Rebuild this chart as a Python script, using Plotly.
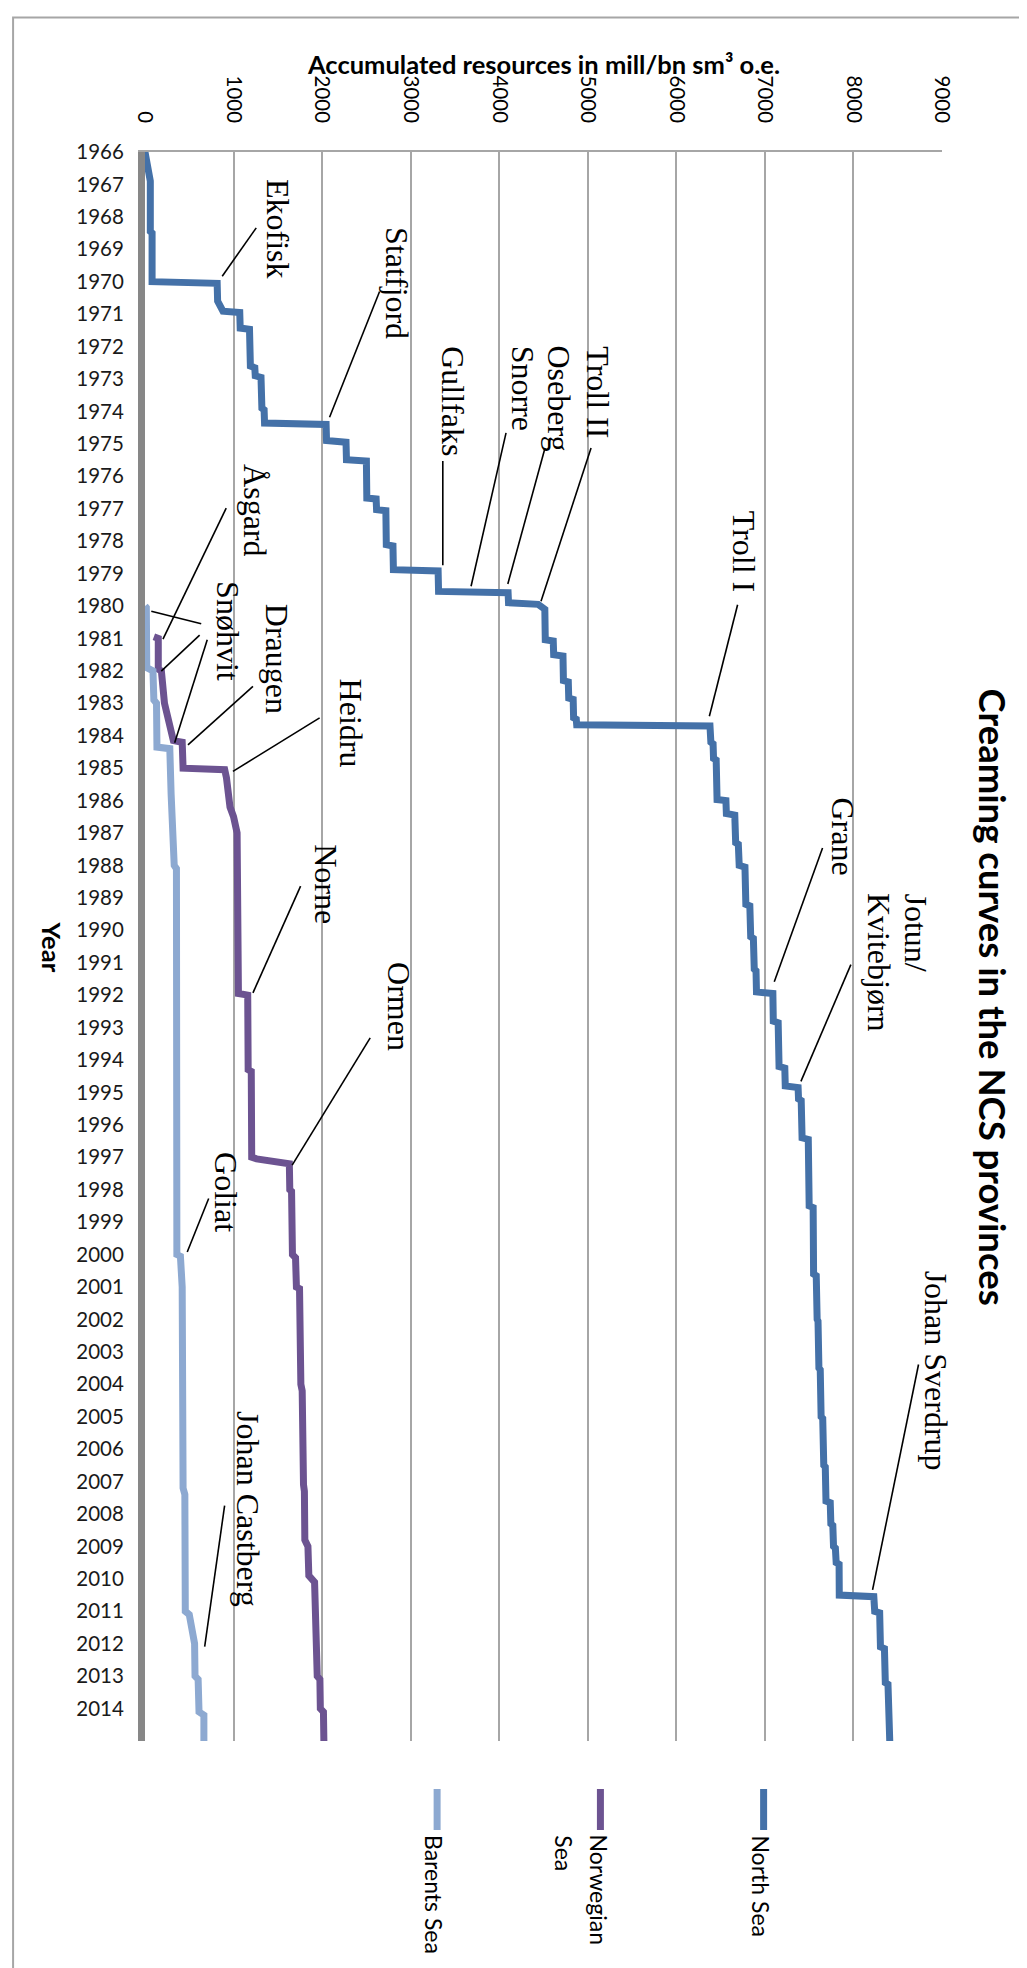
import plotly.graph_objects as go

# ---------------- data ----------------
series_names = ["North Sea", "Norwegian Sea", "Barents Sea"]
series_colors = ["#4471A8", "#6C5391", "#8DA9D1"]

ns_year = [1966.00, 1966.90, 1968.45, 1968.50, 1970.00, 1970.05, 1970.60, 1970.91, 1970.95, 1971.43,
           1971.47, 1972.60, 1972.65, 1972.90, 1972.95, 1973.90, 1973.95, 1974.36, 1974.40, 1974.90,
           1974.95, 1975.49, 1975.53, 1976.67, 1976.70, 1977.03, 1977.06, 1978.11, 1978.15, 1978.88,
           1978.92, 1979.55, 1979.59, 1979.90, 1979.95, 1980.10, 1981.04, 1981.08, 1981.50, 1981.54,
           1982.30, 1982.34, 1982.84, 1982.88, 1983.45, 1983.49, 1983.66, 1983.70, 1984.20, 1984.25,
           1984.70, 1984.75, 1985.97, 1986.00, 1986.40, 1986.45, 1987.30, 1987.35, 1988.00, 1988.05,
           1989.20, 1989.25, 1990.20, 1990.25, 1991.20, 1991.25, 1991.90, 1991.95, 1992.80, 1992.85,
           1994.20, 1994.25, 1994.80, 1994.85, 1995.20, 1995.25, 1996.40, 1996.45, 1998.50, 1998.55,
           2000.60, 2000.65, 2002.00, 2002.05, 2003.50, 2003.55, 2005.00, 2005.05, 2006.50, 2006.55,
           2007.60, 2007.65, 2008.30, 2008.35, 2009.00, 2009.05, 2009.50, 2009.55, 2010.50, 2010.55,
           2011.00, 2011.05, 2012.10, 2012.15, 2013.20, 2013.25, 2015.00]
ns_value = [0, 60, 60, 80, 80, 815, 820, 880, 1070, 1075,
            1180, 1190, 1240, 1245, 1310, 1320, 1345, 1350, 2045, 2050,
            2270, 2275, 2500, 2505, 2610, 2615, 2720, 2725, 2800, 2805,
            3310, 3315, 4100, 4105, 4440, 4515, 4520, 4610, 4615, 4720,
            4725, 4780, 4785, 4835, 4840, 4870, 4875, 6380, 6390, 6415,
            6420, 6450, 6460, 6560, 6565, 6660, 6670, 6700, 6710, 6775,
            6785, 6830, 6840, 6870, 6880, 6900, 6905, 7090, 7095, 7150,
            7160, 7225, 7230, 7375, 7380, 7410, 7420, 7490, 7500, 7545,
            7550, 7580, 7590, 7600, 7610, 7625, 7635, 7653, 7665, 7682,
            7690, 7738, 7745, 7767, 7775, 7796, 7805, 7838, 7840, 8230,
            8240, 8296, 8305, 8350, 8360, 8390, 8410]

nw_year = [1980.95, 1981.00, 1981.95, 1982.00, 1983.00, 1984.05, 1984.15, 1984.20, 1985.00, 1985.05,
           1985.30, 1986.20, 1986.50, 1987.00, 1990.00, 1991.95, 1992.00, 1994.30, 1994.35, 1997.00,
           1997.05, 1997.15, 1997.20, 1998.00, 1998.05, 2000.00, 2000.10, 2001.00, 2001.05, 2004.00,
           2004.20, 2007.10, 2007.30, 2008.80, 2009.00, 2009.90, 2010.10, 2013.00, 2013.10, 2014.00,
           2014.10, 2015.00]
nw_value = [100, 150, 150, 185, 220, 300, 320, 420, 430, 900,
            920, 960, 1000, 1040, 1045, 1055, 1160, 1165, 1200, 1205,
            1260, 1620, 1630, 1635, 1655, 1665, 1700, 1710, 1745, 1760,
            1775, 1790, 1800, 1805, 1840, 1850, 1915, 1945, 1975, 1980,
            2015, 2020]

bs_year = [1980.00, 1980.05, 1981.90, 1982.00, 1982.90, 1983.00, 1984.35, 1984.40, 1985.80, 1986.90,
           1987.00, 1988.00, 1988.10, 2000.00, 2000.05, 2000.90, 2001.00, 2007.20, 2007.40, 2011.00,
           2011.10, 2012.00, 2013.00, 2013.10, 2014.10, 2014.20, 2015.00]
bs_value = [0, 15, 20, 90, 100, 130, 135, 280, 295, 310,
            325, 330, 355, 360, 400, 405, 420, 430, 450, 455,
            500, 560, 565, 600, 610, 665, 665]

year_ticks = list(range(1966, 2015))
value_ticks = [0, 1000, 2000, 3000, 4000, 5000, 6000, 7000, 8000, 9000]

# field labels: text, value (centre), year (top of rotated text)
field_labels = [
    ("Ekofisk", 1501, 1966.80), ("Statfjord", 2844, 1968.28), ("Gullfaks", 3476, 1971.95),
    ("Snorre", 4266, 1971.95), ("Oseberg", 4680, 1971.95), ("Troll II", 5112, 1971.95),
    ("Troll I", 6768, 1977.04), ("Grane", 7877, 1985.86), ("Jotun/", 8701, 1988.82),
    ("Kvitebjørn", 8295, 1988.82), ("Johan Sverdrup", 8934, 2000.47), ("Åsgard", 1241, 1975.59),
    ("Snøhvit", 937, 1979.20), ("Draugen", 1490, 1979.90), ("Heidru", 2325, 1982.22),
    ("Norne", 2043, 1987.31), ("Ormen", 2874, 1990.95), ("Goliat", 908, 1996.82),
    ("Johan Castberg", 1162, 2004.79),
]
# leader lines: value0, year0, value1, year1
leader_lines = [
    (1256, 1968.34, 872, 1969.83), (2649, 1970.30, 2084, 1974.18), (3363, 1975.53, 3363, 1978.74),
    (4077, 1974.66, 3682, 1979.39), (4517, 1975.13, 4097, 1979.32), (5037, 1975.13, 4472, 1979.85),
    (6692, 1979.96, 6373, 1983.40), (7651, 1987.46, 7106, 1991.59), (7971, 1991.06, 7407, 1994.66),
    (8735, 2003.39, 8216, 2010.34), (917, 1976.98, 203, 1981.02), (635, 1980.55, 71, 1980.16),
    (617, 1980.90, 184, 1982.01), (703, 1981.04, 335, 1984.22), (1219, 1982.48, 485, 1984.28),
    (1972, 1983.45, 993, 1985.10), (1757, 1988.64, 1219, 1991.93), (2543, 1993.32, 1662, 1997.24),
    (719, 1998.27, 477, 1999.92), (899, 2007.74, 674, 2012.09),
]

# ---------------- layout helpers ----------------
W, H = 1027, 1968
PL, PT, PW, PH = 137, 144, 797.5, 1589


def pxx(px):
    return (px - PL) / PW


def pxy(py):
    return 1 - (py - PT) / PH


SANS = "Lato, 'Open Sans', sans-serif"
SERIF = "'Liberation Serif', 'Times New Roman', serif"

fig = go.Figure()
for name, color, yrs, vals in zip(series_names, series_colors,
                                  [ns_year, nw_year, bs_year], [ns_value, nw_value, bs_value]):
    fig.add_trace(go.Scatter(x=vals, y=yrs, mode="lines", name=name,
                             line=dict(color=color, width=7), hoverinfo="skip"))

shapes = []
for v0, y0, v1, y1 in leader_lines:
    shapes.append(dict(type="line", xref="x", yref="y", x0=v0, y0=y0, x1=v1, y1=y1,
                       line=dict(color="black", width=1.6)))

# outer frame
shapes.append(dict(type="rect", xref="paper", yref="paper", x0=pxx(5), x1=pxx(1022),
                   y0=pxy(1961), y1=pxy(9.5), line=dict(color="#A6A6A6", width=2), layer="below"))

annotations = []
for text, v, yr in field_labels:
    annotations.append(dict(text=text, x=v, y=yr, xref="x", yref="y", showarrow=False,
                            textangle=90, xanchor="center", yanchor="top", borderpad=0,
                            font=dict(family=SERIF, size=32, color="black")))

# legend (rotated), built from shapes + annotations
legend_x = [756, 592.7, 429.3]
for (name, color, lx) in zip(series_names, series_colors, legend_x):
    shapes.append(dict(type="line", xref="paper", yref="paper", x0=pxx(lx), x1=pxx(lx),
                       y0=pxy(1781), y1=pxy(1822), line=dict(color=color, width=7)))
legend_texts = [("North Sea", 753), ("Norwegian", 591.7), ("Sea", 556), ("Barents Sea", 426.7)]
for text, lx in legend_texts:
    annotations.append(dict(text=text, x=pxx(lx), y=pxy(1826), xref="paper", yref="paper",
                            showarrow=False, textangle=90, xanchor="center", yanchor="top",
                            borderpad=0, font=dict(family=SANS, size=23, color="black")))

# titles
annotations.append(dict(text="<b>Creaming curves in the NCS provinces</b>", x=pxx(986), y=pxy(989),
                        xref="paper", yref="paper", showarrow=False, textangle=90,
                        xanchor="center", yanchor="middle",
                        font=dict(family=SANS, size=36.5, color="black")))
annotations.append(dict(text="<b>Year</b>", x=pxx(44), y=pxy(938.5), xref="paper", yref="paper",
                        showarrow=False, textangle=90, xanchor="center", yanchor="middle",
                        font=dict(family=SANS, size=25.5, color="black")))
annotations.append(dict(text="<b>Accumulated resources in mill/bn sm³ o.e.</b>", x=pxx(536), y=pxy(56),
                        xref="paper", yref="paper", showarrow=False,
                        xanchor="center", yanchor="middle",
                        font=dict(family=SANS, size=25.5, color="black")))

fig.update_layout(
    width=W, height=H,
    margin=dict(l=PL, r=W - PL - PW, t=PT, b=H - PT - PH, pad=0),
    paper_bgcolor="white", plot_bgcolor="white",
    showlegend=False,
    shapes=shapes, annotations=annotations,
    xaxis=dict(side="top", range=[0, 9000], tickvals=value_ticks,
               ticktext=[str(v) for v in value_ticks], tickangle=90,
               showgrid=True, gridcolor="#A6A6A6", gridwidth=1.5,
               showline=True, linecolor="#A6A6A6", linewidth=1.5,
               ticks="", zeroline=False, ticklabelstandoff=20,
               tickfont=dict(family=SANS, size=20.5, color="black")),
    yaxis=dict(range=[2015, 1966], tickvals=year_ticks,
               ticktext=[str(y) for y in year_ticks],
               showgrid=False, showline=True, linecolor="#878787", linewidth=7,
               ticks="", zeroline=False, ticklabelstandoff=10,
               tickfont=dict(family=SANS, size=20.5, color="#1a1a1a")),
)

fig.write_html("out.html")
